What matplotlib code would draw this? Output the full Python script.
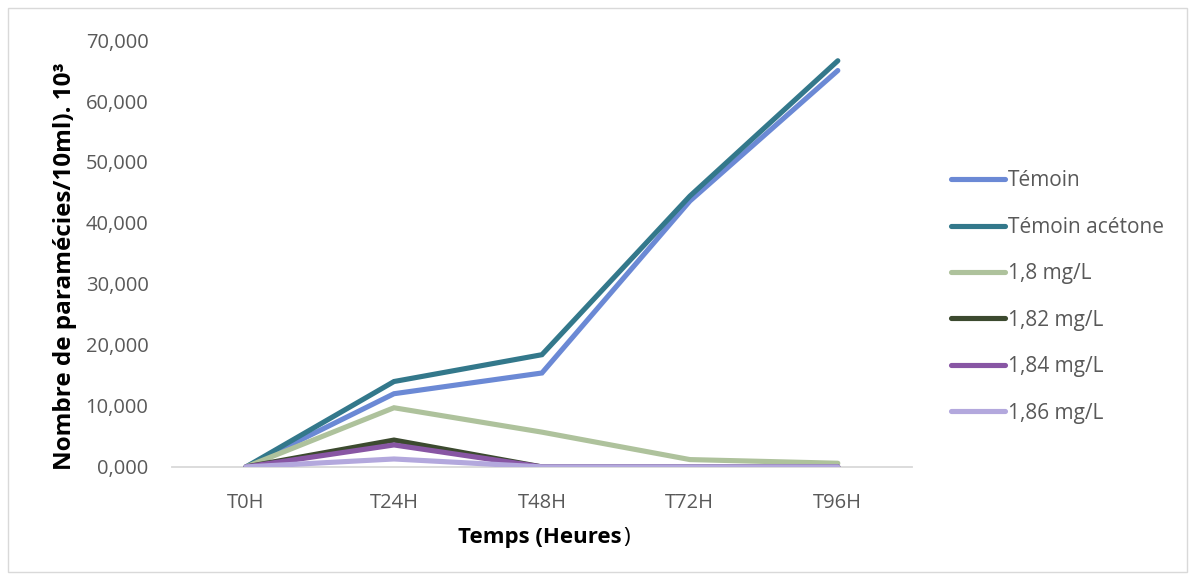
import numpy as np
import matplotlib.pyplot as plt
from matplotlib.ticker import FuncFormatter
from matplotlib.patches import Rectangle

plt.rcParams['font.family'] = ['Open Sans', 'DejaVu Sans']

# données (en milliers de paramécies / 10 ml)
temps = ['T0H', 'T24H', 'T48H', 'T72H', 'T96H']
temoin = [0, 12.0, 15.4, 43.6, 65.0]
temoin_acetone = [0, 14.0, 18.4, 44.4, 66.6]
c_1_80 = [0, 9.7, 5.7, 1.2, 0.6]
c_1_82 = [0, 4.4, 0, 0, 0]
c_1_84 = [0, 3.6, 0, 0, 0]
c_1_86 = [0, 1.3, 0, 0, 0]

series = [
    ('Témoin', temoin, '#6b89d5'),
    ('Témoin acétone', temoin_acetone, '#33788b'),
    ('1,8 mg/L', c_1_80, '#aec29c'),
    ('1,82 mg/L', c_1_82, '#3c4a2f'),
    ('1,84 mg/L', c_1_84, '#8856a4'),
    ('1,86 mg/L', c_1_86, '#b3a8dd'),
]

fig = plt.figure(figsize=(11.95, 5.8), dpi=100)
ax = fig.add_axes([0.144, 0.195, 0.619, 0.736])

x = np.arange(len(temps))
for nom, val, col in series:
    ax.plot(x, val, color=col, lw=3.7, label=nom, solid_capstyle='round',
            solid_joinstyle='miter')

ax.set_xlim(-0.5, len(temps) - 0.5)
ax.set_ylim(0, 70)
ax.set_yticks(np.arange(0, 71, 10))
ax.yaxis.set_major_formatter(FuncFormatter(lambda v, p: f"{v:.3f}".replace('.', ',')))
ax.set_xticks(x)
ax.set_xticklabels(temps)
ax.tick_params(axis='both', length=0, labelsize=14.5, colors='#595959')
ax.tick_params(axis='y', pad=17)
ax.tick_params(axis='x', pad=19)
for s in ['top', 'right', 'left']:
    ax.spines[s].set_visible(False)
ax.spines['bottom'].set_color('#d9d9d9')
ax.spines['bottom'].set_linewidth(1.3)
ax.spines['bottom'].set_zorder(0)

ax.set_ylabel('Nombre de paramécies/10ml). 10³', fontsize=17.5, fontweight='bold')
ax.yaxis.set_label_coords(-0.128, 0.47)

# titre de l'axe x : seule la parenthèse finale n'est pas en gras
t1 = fig.text(0.452, 0.073, 'Temps (Heures', fontsize=16, fontweight='bold',
              ha='center', va='center')
fig.canvas.draw()
bb = t1.get_window_extent(fig.canvas.get_renderer())
fig.text(bb.x1 / fig.bbox.width + 0.001, 0.073, ')', fontsize=16,
         ha='left', va='center')

leg = ax.legend(loc='center left', bbox_to_anchor=(1.027, 0.398), frameon=False,
                fontsize=15, handlelength=2.6, handletextpad=0.15,
                labelspacing=1.22, labelcolor='#595959')

fig.patches.append(Rectangle((0.007, 0.014), 0.986, 0.972, transform=fig.transFigure,
                             fill=False, edgecolor='#d9d9d9', lw=1))

fig.savefig('out.png', dpi=100)
